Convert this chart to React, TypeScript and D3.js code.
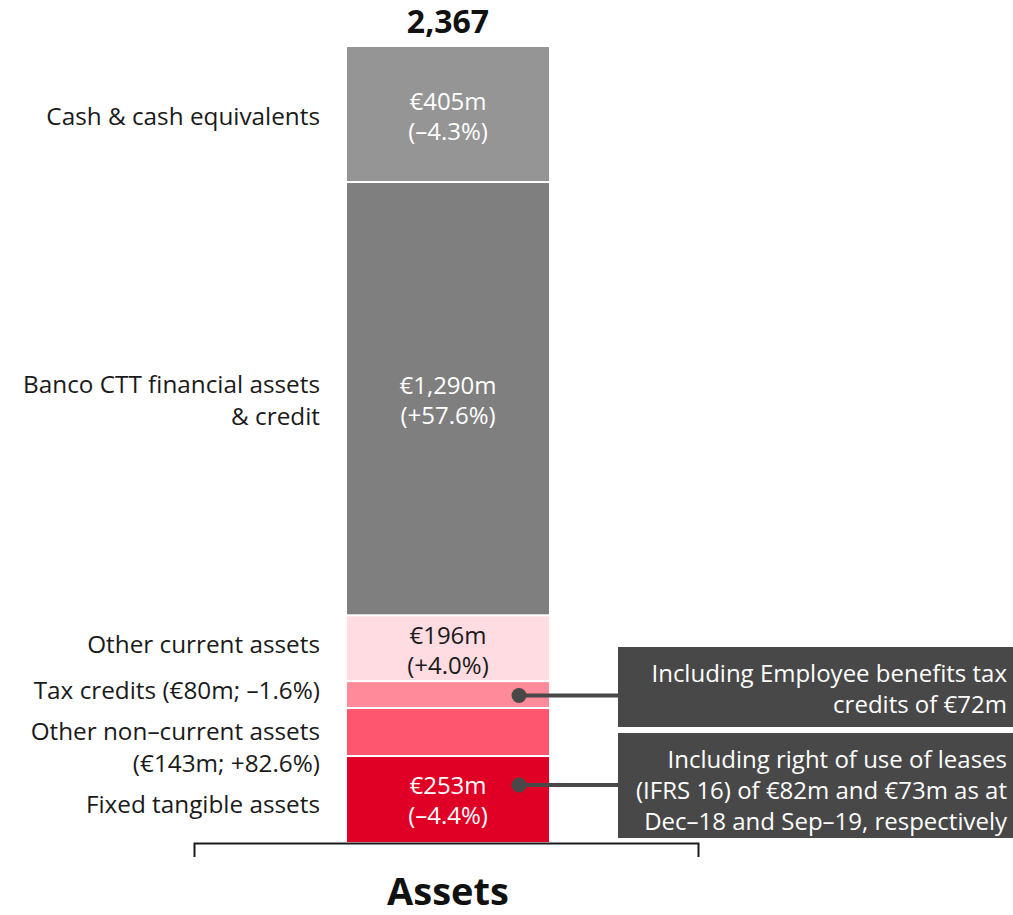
import React from 'react'
import * as d3 from 'd3'

// segments, bottom to top
const categories = ['Fixed tangible assets', 'Other non-current assets', 'Tax credits', 'Other current assets', 'Banco CTT financial assets & credit', 'Cash & cash equivalents']
const values = [253, 143, 80, 196, 1290, 405]
const changes = ['-4.4%', '+82.6%', '-1.6%', '+4.0%', '+57.6%', '-4.3%']
const colors = ['#e00025', '#ff566f', '#ff8a99', '#ffdce1', '#7f7f7f', '#959595']
const leftLabels = [
    ['Fixed tangible assets'],
    ['Other non–current assets', '(€143m; +82.6%)'],
    ['Tax credits (€80m; –1.6%)'],
    ['Other current assets'],
    ['Banco CTT financial assets', '& credit'],
    ['Cash & cash equivalents'],
]
const inBar = [true, false, false, true, true, true]
const notes = [
    {seg: 2, lines: ['Including Employee benefits tax', 'credits of €72m']},
    {seg: 0, lines: ['Including right of use of leases', '(IFRS 16) of €82m and €73m as at', 'Dec–18 and Sep–19, respectively']},
]
const total = d3.sum(values)
const font = '"Open Sans", Lato, sans-serif'

export default function App() {
    const W = 1013, H = 915
    const barX = 347, barW = 202
    const y = d3.scaleLinear().domain([0, total]).range([842, 47])
    const stacked = values.map((v, i) => ({v, i, y0: d3.sum(values.slice(0, i)), y1: d3.sum(values.slice(0, i + 1))}))
    const fmt = d3.format(',')
    const cx = barX + barW / 2

    const labelY = (s: typeof stacked[0]) => (y(s.y0) + y(s.y1)) / 2

    return (
        <svg width={W} height={H} style={{position: 'absolute', left: 0, top: 0}} fontFamily={font}>
            <text x={cx} y={33} textAnchor="middle" fontSize={32} fontWeight="bold" fill="#111">{fmt(total)}</text>
            {stacked.map(s => (
                <rect key={s.i} x={barX} width={barW} y={y(s.y1)} height={y(s.y0) - y(s.y1) - (s.i > 0 ? 2 : 0)} fill={colors[s.i]} />
            ))}
            {stacked.filter(s => inBar[s.i]).map(s => {
                const m = labelY(s)
                const c = s.i === 3 ? '#1a1a1a' : '#fff'
                return (
                    <g key={'v' + s.i} fill={c} fontSize={24} textAnchor="middle">
                        <text x={cx} y={m - 15} dominantBaseline="central">€{fmt(s.v)}m</text>
                        <text x={cx} y={m + 15} dominantBaseline="central">({changes[s.i].replace('-', '–')})</text>
                    </g>
                )
            })}
            {stacked.map(s => {
                const lines = leftLabels[s.i]
                let m = labelY(s)
                if (s.i === 3) m = 643
                if (s.i === 2) m = 689
                if (s.i === 1) m = 746
                if (s.i === 0) m = 803
                return (
                    <text key={'l' + s.i} textAnchor="end" fontSize={24.3} fill="#1a1a1a">
                        {lines.map((t, k) => (
                            <tspan key={k} x={320} y={m + (k - (lines.length - 1) / 2) * 32} dominantBaseline="central">{t}</tspan>
                        ))}
                    </text>
                )
            })}
            {notes.map((n, j) => {
                const s = stacked[n.seg]
                const dy = j === 0 ? labelY(s) : 785
                const top = j === 0 ? 647 : 733
                const h = j === 0 ? 80 : 105
                return (
                    <g key={'n' + j}>
                        <line x1={519} x2={618} y1={dy} y2={dy} stroke="#484848" strokeWidth={4} />
                        <circle cx={519} cy={dy} r={7.5} fill="#484848" />
                        <rect x={618} y={top} width={W - 618} height={h} fill="#484848" />
                        <text textAnchor="end" fontSize={24} fill="#fff">
                            {n.lines.map((t, k) => (
                                <tspan key={k} x={1007} y={top + 25 + k * 31} dominantBaseline="central">{t}</tspan>
                            ))}
                        </text>
                    </g>
                )
            })}
            <path d={`M194.5,857V843.5H698.5V857`} fill="none" stroke="#1a1a1a" strokeWidth={2} />
            <text x={448} y={905} textAnchor="middle" fontSize={38} fontWeight="bold" fill="#111">Assets</text>
        </svg>
    )
}
